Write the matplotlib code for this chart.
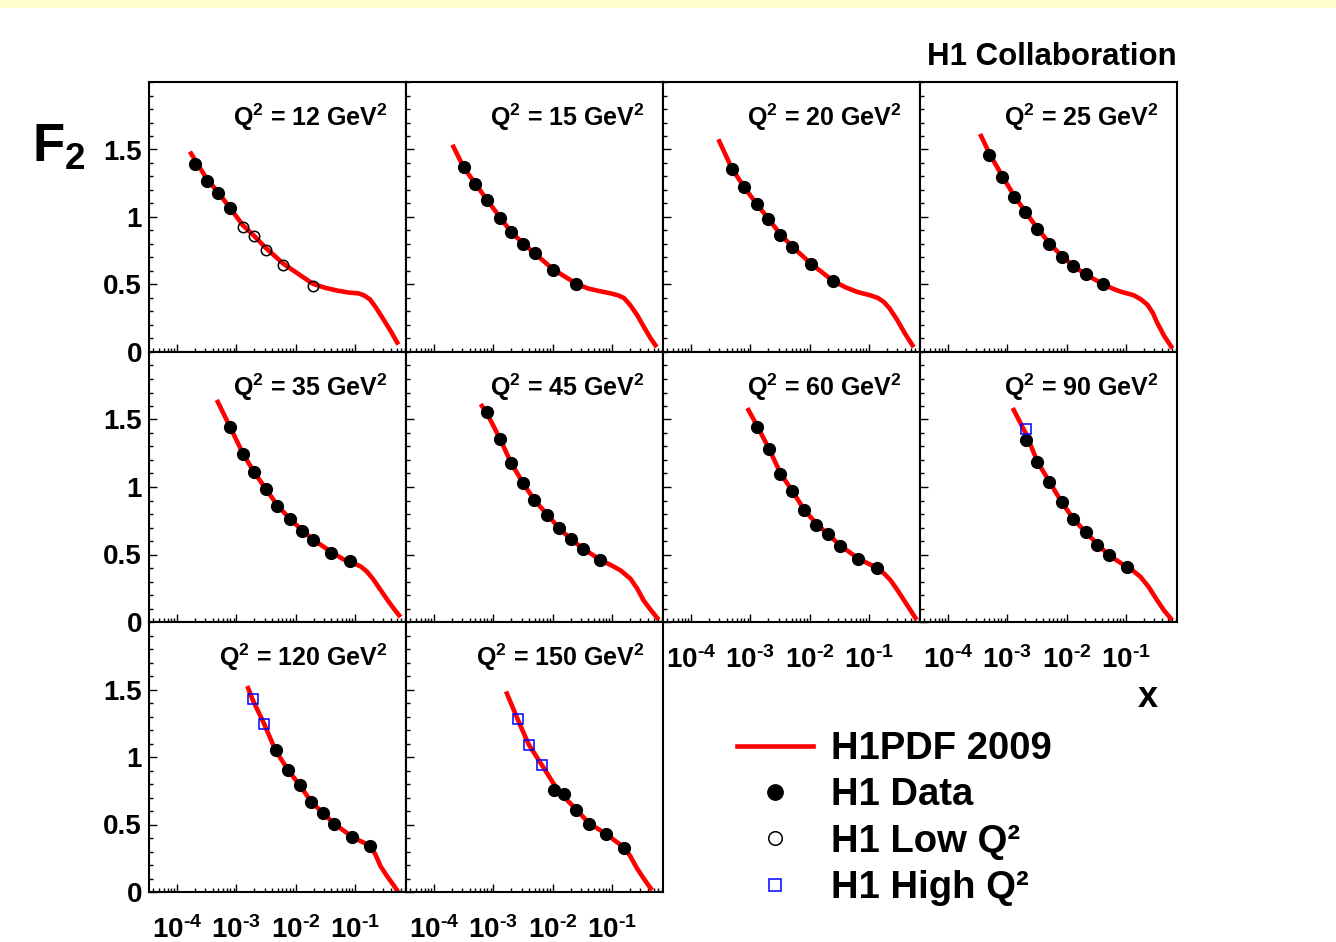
import matplotlib.pyplot as plt
import numpy as np
from matplotlib.patches import Rectangle
from matplotlib.ticker import LogLocator, NullFormatter, MultipleLocator

plt.rcParams['font.family'] = ['Liberation Sans', 'DejaVu Sans']
plt.rcParams['font.weight'] = 'bold'
plt.rcParams['mathtext.fontset'] = 'custom'
plt.rcParams['mathtext.rm'] = 'Liberation Sans:bold'
plt.rcParams['mathtext.it'] = 'Liberation Sans:bold'
plt.rcParams['mathtext.bf'] = 'Liberation Sans:bold'
plt.rcParams['mathtext.sf'] = 'Liberation Sans:bold'

q2_values = [12, 15, 20, 25, 35, 45, 60, 90, 120, 150]
x_tick_vals = [1e-4, 1e-3, 1e-2, 1e-1]
x_tick_labels = [r'$10^{\text{-4}}$', r'$10^{\text{-3}}$', r'$10^{\text{-2}}$', r'$10^{\text{-1}}$']
y_tick_vals = [0, 0.5, 1, 1.5]
y_tick_labels = ['0', '0.5', '1', '1.5']
legend_labels = ['H1PDF 2009', 'H1 Data', 'H1 Low Q²', 'H1 High Q²']

# H1PDF 2009 curve: log10(x) knots and F2
fit_lx_12 = [-3.76, -3.50, -3.30, -3.11, -2.89, -2.71, -2.50, -2.21, -1.71, -1.50, -1.30, -1.10,
             -0.95, -0.85, -0.75, -0.65, -0.52, -0.40, -0.29]
fit_f2_12 = [1.47, 1.285, 1.18, 1.07, 0.94, 0.865, 0.77, 0.655, 0.505, 0.475, 0.455, 0.44,
             0.435, 0.42, 0.39, 0.33, 0.24, 0.155, 0.07]
fit_lx_15 = [-3.67, -3.50, -3.30, -3.11, -2.89, -2.70, -2.50, -2.30, -2.00, -1.60, -1.40, -1.20,
             -1.03, -0.90, -0.80, -0.70, -0.58, -0.45, -0.35, -0.27]
fit_f2_15 = [1.52, 1.37, 1.245, 1.13, 1.00, 0.89, 0.805, 0.73, 0.615, 0.505, 0.47, 0.45,
             0.435, 0.42, 0.40, 0.35, 0.275, 0.175, 0.10, 0.05]
fit_lx_20 = [-3.52, -3.31, -3.10, -2.89, -2.69, -2.49, -2.29, -1.98, -1.60, -1.40, -1.20, -0.98,
             -0.85, -0.75, -0.65, -0.53, -0.40, -0.27]
fit_f2_20 = [1.56, 1.36, 1.22, 1.095, 0.985, 0.87, 0.78, 0.655, 0.525, 0.48, 0.445, 0.42,
             0.40, 0.37, 0.32, 0.24, 0.14, 0.05]
fit_lx_25 = [-3.44, -3.30, -3.08, -2.88, -2.69, -2.49, -2.29, -2.08, -1.88, -1.68, -1.38, -1.20,
             -1.09, -0.95, -0.87, -0.75, -0.64, -0.55, -0.48, -0.36, -0.24]
fit_f2_25 = [1.60, 1.47, 1.30, 1.155, 1.035, 0.915, 0.805, 0.71, 0.635, 0.575, 0.50, 0.465,
             0.447, 0.43, 0.42, 0.39, 0.35, 0.29, 0.22, 0.12, 0.04]
fit_lx_35 = [-3.31, -3.11, -2.89, -2.70, -2.50, -2.31, -2.10, -1.89, -1.71, -1.40, -1.20, -1.02,
             -0.90, -0.80, -0.70, -0.57, -0.45, -0.35, -0.26]
fit_f2_35 = [1.63, 1.45, 1.25, 1.11, 0.985, 0.865, 0.765, 0.68, 0.61, 0.52, 0.465, 0.435,
             0.41, 0.373, 0.32, 0.237, 0.16, 0.10, 0.05]
fit_lx_45 = [-3.19, -3.11, -2.89, -2.70, -2.50, -2.31, -2.09, -1.89, -1.70, -1.49, -1.20, -1.08,
             -0.97, -0.85, -0.69, -0.58, -0.47, -0.35, -0.24]
fit_f2_45 = [1.60, 1.55, 1.36, 1.18, 1.03, 0.905, 0.795, 0.695, 0.615, 0.545, 0.46, 0.435,
             0.41, 0.38, 0.32, 0.25, 0.16, 0.09, 0.03]
fit_lx_60 = [-3.03, -2.88, -2.68, -2.49, -2.29, -2.09, -1.88, -1.69, -1.48, -1.18, -1.00, -0.87,
             -0.75, -0.64, -0.52, -0.41, -0.30, -0.22]
fit_f2_60 = [1.57, 1.45, 1.28, 1.10, 0.97, 0.83, 0.725, 0.65, 0.565, 0.47, 0.43, 0.40,
             0.36, 0.31, 0.235, 0.16, 0.085, 0.03]
fit_lx_90 = [-2.89, -2.68, -2.49, -2.29, -2.08, -1.88, -1.68, -1.48, -1.29, -0.98, -0.87, -0.76,
             -0.62, -0.48, -0.36, -0.25]
fit_f2_90 = [1.57, 1.39, 1.185, 1.04, 0.885, 0.76, 0.665, 0.575, 0.495, 0.405, 0.375, 0.336,
             0.26, 0.163, 0.085, 0.027]
fit_lx_120 = [-2.80, -2.73, -2.53, -2.34, -2.13, -1.93, -1.74, -1.54, -1.35, -1.05, -0.90, -0.75,
              -0.66, -0.57, -0.45, -0.35, -0.29]
fit_f2_120 = [1.51, 1.43, 1.245, 1.05, 0.905, 0.79, 0.67, 0.585, 0.505, 0.41, 0.375, 0.345,
              0.28, 0.19, 0.11, 0.05, 0.01]
fit_lx_150 = [-2.77, -2.59, -2.40, -2.18, -1.98, -1.80, -1.60, -1.39, -1.10, -0.80, -0.70, -0.58,
              -0.46, -0.35]
fit_f2_150 = [1.47, 1.28, 1.09, 0.94, 0.80, 0.70, 0.61, 0.51, 0.43, 0.33, 0.27, 0.175,
              0.095, 0.027]

# H1 data (filled circles)
data_x_12 = [2e-4, 3.2e-4, 5e-4, 8e-4]
data_f2_12 = [1.39, 1.267, 1.175, 1.064]
data_x_15 = [3.2e-4, 5e-4, 8e-4, 1.3e-3, 2e-3, 3.2e-3, 5e-3, 0.01, 0.025]
data_f2_15 = [1.368, 1.242, 1.126, 0.995, 0.889, 0.802, 0.731, 0.610, 0.504]
data_x_20 = [5e-4, 8e-4, 1.3e-3, 2e-3, 3.2e-3, 5e-3, 0.0105, 0.025]
data_f2_20 = [1.358, 1.22, 1.094, 0.983, 0.869, 0.780, 0.654, 0.526]
data_x_25 = [5e-4, 8.3e-4, 1.3e-3, 2e-3, 3.2e-3, 5e-3, 8.3e-3, 0.013, 0.021, 0.041]
data_f2_25 = [1.457, 1.299, 1.15, 1.037, 0.913, 0.80, 0.706, 0.639, 0.58, 0.501]
data_x_35 = [7.8e-4, 1.3e-3, 2e-3, 3.2e-3, 4.9e-3, 8e-3, 0.013, 0.0195, 0.04, 0.081]
data_f2_35 = [1.447, 1.247, 1.111, 0.983, 0.862, 0.763, 0.676, 0.610, 0.513, 0.454]
data_x_45 = [7.8e-4, 1.3e-3, 2e-3, 3.2e-3, 4.9e-3, 8.1e-3, 0.013, 0.02, 0.032, 0.063]
data_f2_45 = [1.553, 1.356, 1.18, 1.027, 0.904, 0.793, 0.694, 0.615, 0.543, 0.459]
data_x_60 = [1.3e-3, 2.1e-3, 3.2e-3, 5.1e-3, 8.1e-3, 0.013, 0.02, 0.033, 0.066, 0.135]
data_f2_60 = [1.447, 1.279, 1.096, 0.970, 0.830, 0.721, 0.649, 0.563, 0.467, 0.40]
data_x_90 = [2.1e-3, 3.2e-3, 5.1e-3, 8.3e-3, 0.013, 0.021, 0.033, 0.051, 0.105]
data_f2_90 = [1.348, 1.183, 1.04, 0.886, 0.761, 0.664, 0.573, 0.494, 0.405]
data_x_120 = [4.6e-3, 7.4e-3, 0.0117, 0.018, 0.029, 0.045, 0.089, 0.178]
data_f2_120 = [1.05, 0.906, 0.795, 0.664, 0.583, 0.504, 0.407, 0.343]
data_x_150 = [0.0105, 0.0158, 0.025, 0.041, 0.079, 0.158]
data_f2_150 = [0.756, 0.728, 0.607, 0.506, 0.432, 0.328]

# H1 low Q2 (open circles) and H1 high Q2 (blue squares)
low_x_12 = [1.3e-3, 2e-3, 3.2e-3, 6.2e-3, 0.0195]
low_f2_12 = [0.926, 0.862, 0.758, 0.644, 0.491]
high_x_90 = [2.1e-3]
high_f2_90 = [1.432]
high_x_120 = [1.9e-3, 2.95e-3]
high_f2_120 = [1.427, 1.244]
high_x_150 = [2.6e-3, 4e-3, 6.6e-3]
high_f2_150 = [1.279, 1.091, 0.941]

panels = [
    (fit_lx_12, fit_f2_12, data_x_12, data_f2_12, low_x_12, low_f2_12, [], []),
    (fit_lx_15, fit_f2_15, data_x_15, data_f2_15, [], [], [], []),
    (fit_lx_20, fit_f2_20, data_x_20, data_f2_20, [], [], [], []),
    (fit_lx_25, fit_f2_25, data_x_25, data_f2_25, [], [], [], []),
    (fit_lx_35, fit_f2_35, data_x_35, data_f2_35, [], [], [], []),
    (fit_lx_45, fit_f2_45, data_x_45, data_f2_45, [], [], [], []),
    (fit_lx_60, fit_f2_60, data_x_60, data_f2_60, [], [], [], []),
    (fit_lx_90, fit_f2_90, data_x_90, data_f2_90, [], [], high_x_90, high_f2_90),
    (fit_lx_120, fit_f2_120, data_x_120, data_f2_120, [], [], high_x_120, high_f2_120),
    (fit_lx_150, fit_f2_150, data_x_150, data_f2_150, [], [], high_x_150, high_f2_150),
]

W, H = 1336, 942
left0, top0, pw, ph = 149, 82, 257, 270

fig = plt.figure(figsize=(W / 100, H / 100), dpi=100)
fig.patches.append(Rectangle((0, 1 - 8 / H), 1, 8 / H, transform=fig.transFigure,
                             facecolor='#FFFFCC', edgecolor='none', zorder=-1))

handles = {}
for i, q2 in enumerate(q2_values):
    row, col = divmod(i, 4)
    ax = fig.add_axes([(left0 + col * pw) / W, 1 - (top0 + (row + 1) * ph) / H, pw / W, ph / H])
    lx, f2, dx, df2, lowx, lowf2, hx, hf2 = panels[i]

    line, = ax.plot(10 ** np.array(lx), f2, color='red', lw=3.3, zorder=2,
                    solid_joinstyle='round')
    handles['fit'] = line
    pts, = ax.plot(dx, df2, 'o', color='black', ms=8.5, zorder=3)
    handles['data'] = pts
    if lowx:
        lo, = ax.plot(lowx, lowf2, 'o', mfc='none', mec='black', mew=1.1, ms=7.5, zorder=3)
        handles['low'] = lo
    if hx:
        hi, = ax.plot(hx, hf2, 's', mfc='none', mec='#0000FF', mew=1.1, ms=6.5, zorder=3)
        handles['high'] = hi

    ax.set_xscale('log')
    ax.set_xlim(3.4e-5, 0.72)
    ax.set_ylim(0, 2.0)

    ax.set_xticks(x_tick_vals)
    ax.set_xticklabels(x_tick_labels)
    ax.xaxis.set_minor_locator(LogLocator(base=10, subs=np.arange(2, 10), numticks=20))
    ax.xaxis.set_minor_formatter(NullFormatter())
    ax.set_yticks(y_tick_vals)
    ax.set_yticklabels(y_tick_labels)
    ax.yaxis.set_minor_locator(MultipleLocator(0.1))

    ax.tick_params(which='both', direction='in', top=False, right=False, labelsize=20, width=1)
    ax.tick_params(which='major', length=6)
    ax.tick_params(which='minor', length=3)
    ax.tick_params(axis='x', pad=17.5)
    ax.tick_params(axis='y', pad=5)
    show_x = i in (6, 7, 8, 9)
    ax.tick_params(labelbottom=show_x, labelleft=(col == 0))
    for s in ax.spines.values():
        s.set_linewidth(1.5)

    ax.text(1 - 18 / pw, 1 - 44 / ph, f'Q$^2$ = {q2} GeV$^2$', transform=ax.transAxes,
            ha='right', va='baseline', fontsize=18, fontweight='bold')

fig.text(32 / W, 1 - 162 / H, r'F$_2$', ha='left', va='baseline', fontsize=38, fontweight='bold')
fig.text(1177 / W, 1 - 65 / H, 'H1 Collaboration', ha='right', va='baseline',
         fontsize=22.5, fontweight='bold')
fig.text(1148 / W, 1 - 707 / H, 'x', ha='center', va='baseline', fontsize=26, fontweight='bold')

fig.legend([handles['fit'], handles['data'], handles['low'], handles['high']], legend_labels,
           loc='upper left', bbox_to_anchor=(737 / W, 1 - 731 / H), frameon=False,
           fontsize=27.5, handlelength=2.0, handletextpad=0.45, labelspacing=0.27,
           markerscale=1.3, borderpad=0, borderaxespad=0)

fig.savefig('out.png', dpi=100)
